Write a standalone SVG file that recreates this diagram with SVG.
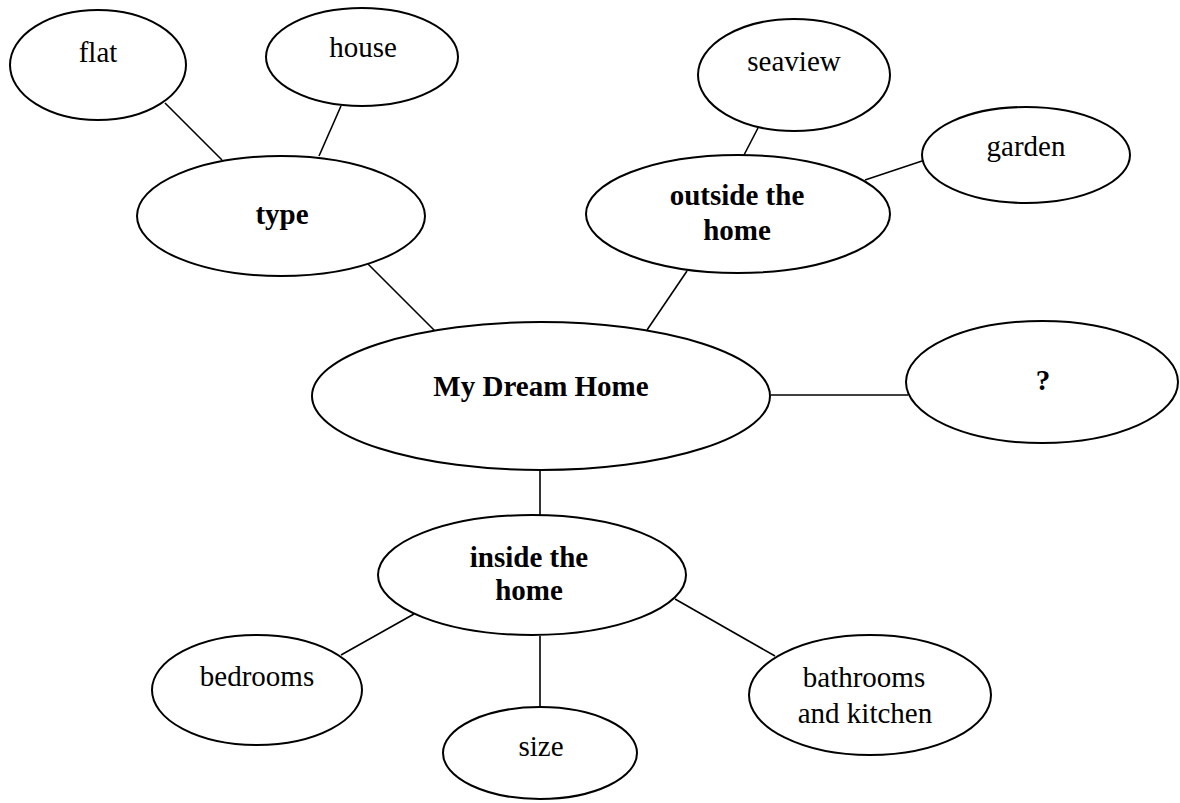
<svg xmlns="http://www.w3.org/2000/svg" width="1180" height="803" viewBox="0 0 1180 803">
<style>
  .n { fill: #ffffff; stroke: #000000; stroke-width: 2; }
  .c line { stroke: #000000; stroke-width: 1.6; }
  text { font-family: "Liberation Serif", "Times New Roman", serif; font-size: 29px; fill: #000000; text-anchor: middle; }
  .b { font-weight: bold; }
</style>
<rect width="1180" height="803" fill="#ffffff"/>
<g id="connectors" class="c">
  <line x1="165" y1="103" x2="222" y2="160"/>
  <line x1="341" y1="106" x2="319" y2="156"/>
  <line x1="368" y1="264" x2="435" y2="331"/>
  <line x1="758" y1="128" x2="744" y2="155"/>
  <line x1="922" y1="161" x2="865" y2="180"/>
  <line x1="687" y1="271" x2="647" y2="330"/>
  <line x1="771" y1="395" x2="908" y2="395"/>
  <line x1="540" y1="470" x2="540" y2="515"/>
  <line x1="414" y1="614" x2="341" y2="655"/>
  <line x1="540" y1="636" x2="540" y2="707"/>
  <line x1="675" y1="599" x2="775" y2="656"/>
</g>
<g id="flat">
  <ellipse class="n" cx="98" cy="65" rx="88" ry="55"/>
  <text x="98" y="62">flat</text>
</g>
<g id="house">
  <ellipse class="n" cx="362" cy="57" rx="96" ry="49"/>
  <text x="363" y="57">house</text>
</g>
<g id="type">
  <ellipse class="n" cx="281" cy="216" rx="144" ry="60"/>
  <text class="b" x="282" y="224">type</text>
</g>
<g id="seaview">
  <ellipse class="n" cx="794" cy="75" rx="96" ry="56"/>
  <text x="794" y="71">seaview</text>
</g>
<g id="garden">
  <ellipse class="n" cx="1026" cy="155" rx="104" ry="48"/>
  <text x="1026" y="156">garden</text>
</g>
<g id="outside">
  <ellipse class="n" cx="738" cy="214" rx="152" ry="59"/>
  <text class="b" x="737" y="205">outside the</text>
  <text class="b" x="737" y="240">home</text>
</g>
<g id="dream">
  <ellipse class="n" cx="541" cy="396" rx="229" ry="74"/>
  <text class="b" x="541" y="396">My Dream Home</text>
</g>
<g id="question">
  <ellipse class="n" cx="1042" cy="382" rx="136" ry="61"/>
  <text class="b" x="1043" y="390">?</text>
</g>
<g id="inside">
  <ellipse class="n" cx="532" cy="575" rx="154" ry="60"/>
  <text class="b" x="529" y="567">inside the</text>
  <text class="b" x="529" y="600">home</text>
</g>
<g id="bedrooms">
  <ellipse class="n" cx="257" cy="690" rx="105" ry="55"/>
  <text x="257" y="686">bedrooms</text>
</g>
<g id="size">
  <ellipse class="n" cx="540" cy="753" rx="97" ry="46"/>
  <text x="541" y="756">size</text>
</g>
<g id="bathrooms">
  <ellipse class="n" cx="870" cy="695" rx="121" ry="60"/>
  <text x="864" y="687">bathrooms</text>
  <text x="865" y="723">and kitchen</text>
</g>
</svg>
